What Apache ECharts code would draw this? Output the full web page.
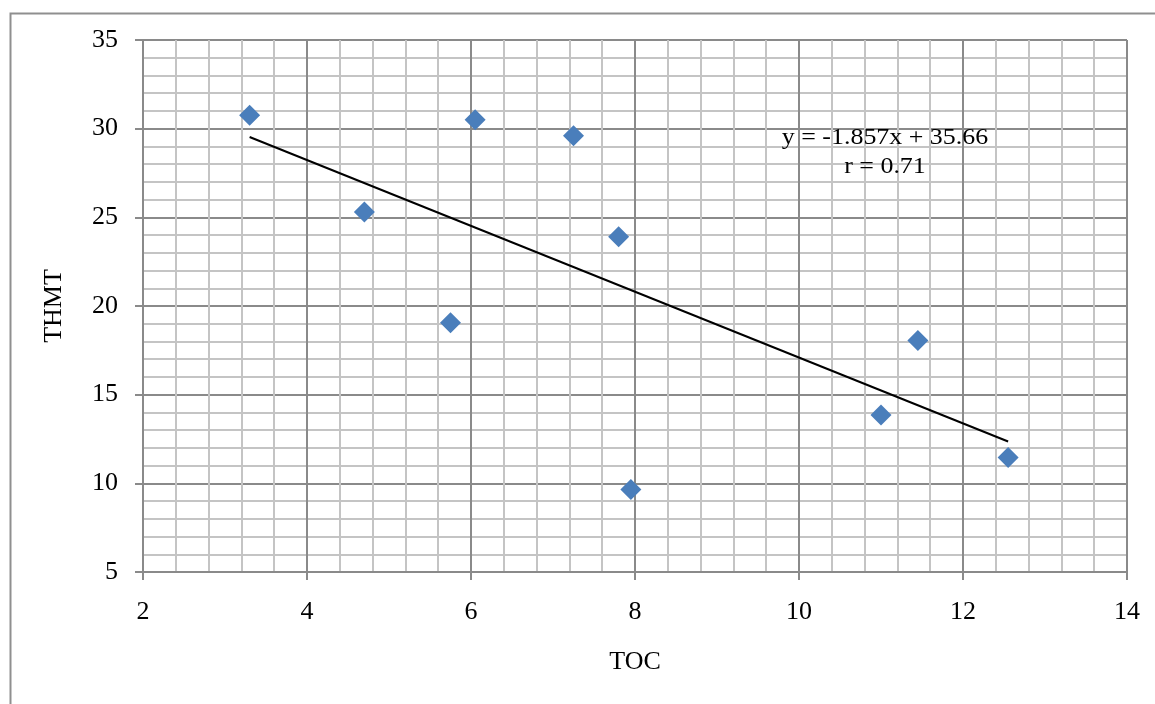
<!DOCTYPE html>
<html>
<head>
<meta charset="utf-8">
<script src="https://cdn.jsdelivr.net/npm/echarts@6/dist/echarts.min.js"></script>
<style>
html,body{margin:0;padding:0;background:#fff;}
#chart{width:1155px;height:704px;}
</style>
</head>
<body>
<div id="chart"></div>
<script>
// Data
const tocValues  = [3.30, 4.70, 6.05, 7.25, 5.75, 7.80, 7.95, 11.45, 11.00, 12.55];
const thmtValues = [30.75, 25.30, 30.50, 29.60, 19.05, 23.90, 9.65, 18.05, 13.85, 11.45];
// Trend line endpoints as drawn in the picture
const trendX = [3.30, 12.55];
const trendY = [29.53, 12.36];
const equationText = 'y = -1.857x + 35.66';
const rText = 'r = 0.71';
const xAxisName = 'TOC';
const yAxisName = 'THMT';

const points = tocValues.map((x, i) => [x, thmtValues[i]]);
const trend = trendX.map((x, i) => [x, trendY[i]]);

const font = "'Liberation Serif', 'Times New Roman', serif";
const majorColor = '#8a8a8a';
const minorColor = '#c4c4c4';

const chart = echarts.init(document.getElementById('chart'), null, {renderer: 'canvas'});
chart.setOption({
  backgroundColor: '#ffffff',
  animation: false,
  grid: {left: 143, top: 40, right: 28, bottom: 132, containLabel: false},
  xAxis: {
    type: 'value', min: 2, max: 14, interval: 2,
    name: xAxisName, nameLocation: 'middle', nameGap: 77,
    nameTextStyle: {fontFamily: font, fontSize: 26, color: '#000'},
    axisLine: {show: true, onZero: false, lineStyle: {color: majorColor, width: 2}},
    axisTick: {show: true, length: 8, inside: false, lineStyle: {color: majorColor, width: 2}},
    axisLabel: {fontFamily: font, fontSize: 26, color: '#000', margin: 27},
    splitLine: {show: true, lineStyle: {color: majorColor, width: 2}},
    minorTick: {show: false, splitNumber: 5},
    minorSplitLine: {show: true, lineStyle: {color: minorColor, width: 2}}
  },
  yAxis: {
    type: 'value', min: 5, max: 35, interval: 5,
    name: yAxisName, nameLocation: 'middle', nameGap: 76, nameRotate: 90,
    nameTextStyle: {fontFamily: font, fontSize: 26, color: '#000'},
    axisLine: {show: true, onZero: false, lineStyle: {color: majorColor, width: 2}},
    axisTick: {show: true, length: 8, inside: false, lineStyle: {color: majorColor, width: 2}},
    axisLabel: {fontFamily: font, fontSize: 26, color: '#000', margin: 25},
    splitLine: {show: true, lineStyle: {color: majorColor, width: 2}},
    minorTick: {show: false, splitNumber: 5},
    minorSplitLine: {show: true, lineStyle: {color: minorColor, width: 2}}
  },
  series: [
    {
      type: 'line', data: trend, symbol: 'none', silent: true,
      lineStyle: {color: '#000', width: 2}, z: 3
    },
    {
      type: 'scatter', data: points, symbol: 'diamond', symbolSize: 21,
      itemStyle: {color: '#4A7EBB', borderColor: '#4A7EBB', borderWidth: 0, opacity: 1}, z: 4
    }
  ],
  graphic: [
    {type: 'rect', left: 8, top: 11, shape: {width: 1200, height: 750}, z: 100,
     style: {fill: 'none', stroke: '#8f8f8f', lineWidth: 2}},
    {type: 'text', x: 885, y: 138, scaleX: 1.08, scaleY: 1, z: 101,
     style: {text: equationText, fontFamily: font, fontSize: 24, fill: '#000', textAlign: 'center', textVerticalAlign: 'middle'}},
    {type: 'text', x: 885, y: 167, scaleX: 1.08, scaleY: 1, z: 101,
     style: {text: rText, fontFamily: font, fontSize: 24, fill: '#000', textAlign: 'center', textVerticalAlign: 'middle'}}
  ]
});
</script>
</body>
</html>
